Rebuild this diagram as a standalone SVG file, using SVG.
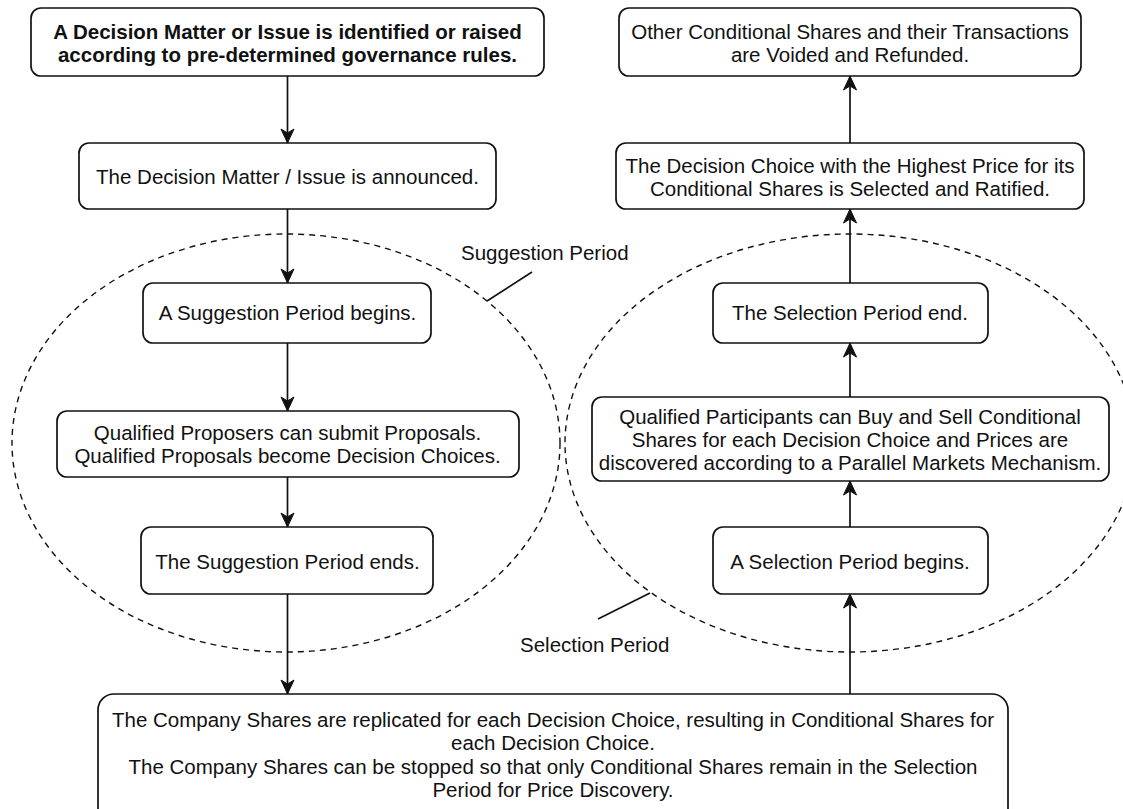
<svg xmlns="http://www.w3.org/2000/svg" width="1123" height="809" viewBox="0 0 1123 809">
<style>
.box{fill:#fff;stroke:#111;stroke-width:1.7}
.t{font-family:"Liberation Sans",Arial,Helvetica,sans-serif;font-size:20.5px;fill:#111;text-anchor:middle}
.b{font-weight:bold}
.lbl{font-family:"Liberation Sans",Arial,Helvetica,sans-serif;font-size:20.5px;fill:#111}
.edge{fill:none;stroke:#111;stroke-width:1.7}
.grp{fill:none;stroke:#111;stroke-width:1.4;stroke-dasharray:6 5}
.lead{fill:none;stroke:#111;stroke-width:1.7}
</style>
<defs>
<marker id="arr" markerWidth="16" markerHeight="16" refX="15" refY="8" orient="auto" markerUnits="userSpaceOnUse">
<path d="M1,1.5 L15,8 L1,14.5 L5,8 Z" fill="#111" stroke="#111" stroke-width="1"/>
</marker>
</defs>
<rect width="1123" height="809" fill="#fff"/>
<g id="groups">
<ellipse class="grp" cx="286" cy="443" rx="274" ry="209"/>
<ellipse class="grp" cx="850" cy="443" rx="285" ry="209"/>
<line class="lead" x1="532" y1="272" x2="487" y2="301"/>
<line class="lead" x1="598" y1="619" x2="650" y2="593"/>
<text class="lbl" x="461" y="260">Suggestion Period</text>
<text class="lbl" x="520" y="652">Selection Period</text>
</g>
<g id="connectors">
<line class="edge" x1="287.5" y1="76" x2="287.5" y2="143" marker-end="url(#arr)"/>
<line class="edge" x1="287.5" y1="209" x2="287.5" y2="283" marker-end="url(#arr)"/>
<line class="edge" x1="287.5" y1="343" x2="287.5" y2="411" marker-end="url(#arr)"/>
<line class="edge" x1="287.5" y1="477" x2="287.5" y2="527" marker-end="url(#arr)"/>
<line class="edge" x1="287.5" y1="594" x2="287.5" y2="694" marker-end="url(#arr)"/>
<line class="edge" x1="850" y1="694" x2="850" y2="594" marker-end="url(#arr)"/>
<line class="edge" x1="850" y1="527" x2="850" y2="481" marker-end="url(#arr)"/>
<line class="edge" x1="850" y1="397" x2="850" y2="343" marker-end="url(#arr)"/>
<line class="edge" x1="850" y1="283" x2="850" y2="209" marker-end="url(#arr)"/>
<line class="edge" x1="850" y1="143" x2="850" y2="76" marker-end="url(#arr)"/>
</g>
<g id="n1">
<rect class="box" x="31" y="8" width="513" height="68" rx="10"/>
<text class="t b" x="287.5" y="38.5">A Decision Matter or Issue is identified or raised</text>
<text class="t b" x="287.5" y="61.5">according to pre-determined governance rules.</text>
</g>
<g id="n2">
<rect class="box" x="79" y="143" width="417" height="66" rx="10"/>
<text class="t" x="287.5" y="183.5">The Decision Matter / Issue is announced.</text>
</g>
<g id="n3">
<rect class="box" x="143" y="283" width="288" height="60" rx="10"/>
<text class="t" x="287.5" y="320">A Suggestion Period begins.</text>
</g>
<g id="n4">
<rect class="box" x="57" y="411" width="462" height="66" rx="10"/>
<text class="t" x="287.5" y="440">Qualified Proposers can submit Proposals.</text>
<text class="t" x="287.5" y="463">Qualified Proposals become Decision Choices.</text>
</g>
<g id="n5">
<rect class="box" x="141" y="527" width="292" height="67" rx="10"/>
<text class="t" x="287.5" y="569">The Suggestion Period ends.</text>
</g>
<g id="n6">
<rect class="box" x="98" y="694" width="910" height="140" rx="16"/>
<text class="t" x="553" y="727">The Company Shares are replicated for each Decision Choice, resulting in Conditional Shares for</text>
<text class="t" x="553" y="750">each Decision Choice.</text>
<text class="t" x="553" y="774">The Company Shares can be stopped so that only Conditional Shares remain in the Selection</text>
<text class="t" x="553" y="797">Period for Price Discovery.</text>
</g>
<g id="n7">
<rect class="box" x="713" y="527" width="275" height="67" rx="10"/>
<text class="t" x="850" y="569">A Selection Period begins.</text>
</g>
<g id="n8">
<rect class="box" x="592" y="397" width="517" height="84" rx="10"/>
<text class="t" x="850" y="424">Qualified Participants can Buy and Sell Conditional</text>
<text class="t" x="850" y="447">Shares for each Decision Choice and Prices are</text>
<text class="t" x="850" y="470">discovered according to a Parallel Markets Mechanism.</text>
</g>
<g id="n9">
<rect class="box" x="713" y="283" width="275" height="60" rx="10"/>
<text class="t" x="850" y="320">The Selection Period end.</text>
</g>
<g id="n10">
<rect class="box" x="616" y="143" width="468" height="66" rx="10"/>
<text class="t" x="850" y="173">The Decision Choice with the Highest Price for its</text>
<text class="t" x="850" y="196">Conditional Shares is Selected and Ratified.</text>
</g>
<g id="n11">
<rect class="box" x="619" y="8" width="462" height="68" rx="10"/>
<text class="t" x="850" y="38.5">Other Conditional Shares and their Transactions</text>
<text class="t" x="850" y="61.5">are Voided and Refunded.</text>
</g>
</svg>
